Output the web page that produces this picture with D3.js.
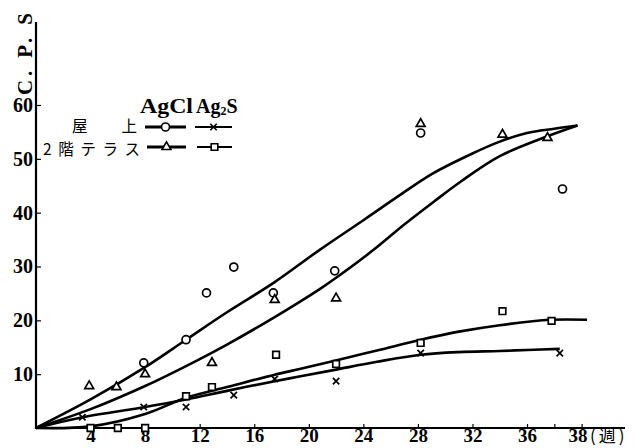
<!DOCTYPE html>
<html>
<head>
<meta charset="utf-8">
<script src="https://cdn.jsdelivr.net/npm/d3@7"></script>
<style>
  body { margin: 0; background: #fff; }
  svg { display: block; }
  .num { font-family: "Liberation Serif", "DejaVu Serif", serif; font-weight: bold; }
  .jp { font-family: "Noto Sans CJK JP", sans-serif; }
</style>
</head>
<body>
<div id="chartDiv"></div>
<script>
// x tick values (weeks) and the printed labels (last one is printed "38")
var xTicks = [4, 8, 12, 16, 20, 24, 28, 32, 36, 38, 40];
var xLabels = ["4", "8", "12", "16", "20", "24", "28", "32", "36", "", "38"];
var yTicks = [10, 20, 30, 40, 50, 60];

// fitted curves
var roofAgClCurveW = [0, 4, 8, 11, 14, 17.5, 20.8, 24, 26.7, 29.1, 32, 34, 36, 38, 39.7];
var roofAgClCurveV = [0, 5.3, 11.3, 16.4, 21.5, 27.1, 33.1, 38.6, 43.3, 47.3, 51, 53.2, 54.8, 55.6, 56.2];
var terAgClCurveW = [0, 4, 8, 11, 14, 17.5, 20.8, 22, 24.7, 27, 29.25, 31.1, 34, 37.5, 39.7];
var terAgClCurveV = [0, 3.5, 7.8, 11.5, 15.5, 20.6, 25.8, 27.9, 33.0, 37.8, 42.2, 45.7, 50.5, 54.2, 56.2];
var terAg2SCurveW = [0, 4, 8, 11, 14, 17.5, 19.4, 21.9, 25, 28.2, 31, 34, 37.7, 40.4];
var terAg2SCurveV = [0, 0.3, 2.6, 5.6, 7.6, 9.9, 11.0, 12.5, 14.4, 16.4, 17.9, 19.1, 20.1, 20.1];
var roofAg2SCurveW = [0, 3.4, 8, 11, 14, 17.5, 19.4, 21.9, 25, 28.2, 31, 34, 36, 38.4];
var roofAg2SCurveV = [0, 2.0, 3.9, 5.3, 6.9, 8.7, 9.6, 10.8, 12.3, 13.6, 14.1, 14.3, 14.5, 14.7];

// measured points
var roofAgClW = [7.9, 11, 12.5, 14.5, 17.4, 21.9, 28.2, 38.6];
var roofAgClV = [12.1, 16.4, 25.1, 29.9, 25.1, 29.2, 54.8, 44.4];
var terAgClW = [3.9, 5.9, 8.0, 12.9, 17.5, 22, 28.2, 34.2, 37.5];
var terAgClV = [7.8, 7.6, 10.0, 12.1, 23.8, 24.1, 56.5, 54.5, 53.9];
var terAg2SW = [4, 6, 8, 11, 12.9, 17.6, 22, 28.2, 34.2, 37.8];
var terAg2SV = [0, 0, 0, 5.9, 7.6, 13.6, 11.9, 15.8, 21.7, 19.9];
var roofAg2SW = [3.4, 7.9, 11, 14.5, 17.5, 22, 28.2, 38.4];
var roofAg2SV = [2.0, 3.9, 3.9, 6.1, 9.1, 8.7, 13.9, 13.9];

var sites = ["屋上", "2階テラス"];
var compounds = ["AgCl", "Ag", "2", "S"];

var swidth = 635, sheight = 448;
var svg = d3.select("#chartDiv").append("svg")
    .attr("width", swidth)
    .attr("height", sheight);

var x = d3.scaleLinear().domain([0, 40]).range([36, 581.6]);
var y = d3.scaleLinear().domain([0, 60]).range([428, 105]);

function zip(w, v) { return w.map(function (d, i) { return [d, v[i]]; }); }

// axes
svg.append("g")
    .attr("transform", "translate(0,428)")
    .call(d3.axisBottom(x).tickValues(xTicks).tickSizeInner(-4).tickSizeOuter(0).tickPadding(0)
        .tickFormat(function (d, i) { return xLabels[i]; }))
    .call(function (g) {
        g.select(".domain").remove();
        g.selectAll("line").attr("stroke", "#000").attr("stroke-width", 1.2);
        g.selectAll("text").attr("class", "num").attr("font-size", 19).attr("fill", "#000")
            .attr("dx", function (d) { return d === 40 ? -4 : 0; });
    });

svg.append("g")
    .attr("transform", "translate(36,0)")
    .call(d3.axisLeft(y).tickValues(yTicks).tickSizeInner(-5).tickSizeOuter(0).tickPadding(3))
    .call(function (g) {
        g.select(".domain").remove();
        g.selectAll("line").attr("stroke", "#000").attr("stroke-width", 1.2);
        g.selectAll("text").attr("class", "num").attr("font-size", 20).attr("fill", "#000");
    });

svg.append("line").attr("x1", 35).attr("x2", 625).attr("y1", 428).attr("y2", 428)
    .attr("stroke", "#000").attr("stroke-width", 2.2);
svg.append("line").attr("x1", 36).attr("x2", 36).attr("y1", 429).attr("y2", 22)
    .attr("stroke", "#000").attr("stroke-width", 2.2);

svg.append("text").attr("class", "jp")
    .attr("x", 590).attr("y", 442)
    .attr("font-size", 17)
    .attr("letter-spacing", 3)
    .text("(週)");

svg.append("text").attr("class", "num")
    .attr("transform", "translate(32,95) rotate(-90)")
    .attr("font-size", 21)
    .attr("textLength", 82).attr("lengthAdjust", "spacing")
    .text("C. P. S");

// curves
var line = d3.line()
    .x(function (d) { return x(d[0]); })
    .y(function (d) { return y(d[1]); })
    .curve(d3.curveCatmullRom.alpha(0.5));

[[roofAgClCurveW, roofAgClCurveV], [terAgClCurveW, terAgClCurveV],
 [terAg2SCurveW, terAg2SCurveV], [roofAg2SCurveW, roofAg2SCurveV]].forEach(function (c) {
    svg.append("path")
        .attr("d", line(zip(c[0], c[1])))
        .attr("fill", "none")
        .attr("stroke", "#000")
        .attr("stroke-width", 2.6);
});

// markers
var circlePath = d3.symbol().type(d3.symbolCircle).size(50)();
var triPath = d3.symbol().type(d3.symbolTriangle).size(34)();
var sqPath = d3.symbol().type(d3.symbolSquare).size(44)();
var xPath = "M-3.2,-3.2L3.2,3.2M-3.2,3.2L3.2,-3.2";

function drawMarks(w, v, p, filled) {
    svg.append("g").selectAll("path")
        .data(zip(w, v))
        .enter().append("path")
        .attr("transform", function (d) { return "translate(" + x(d[0]) + "," + y(d[1]) + ")"; })
        .attr("d", p)
        .attr("fill", filled ? "#fff" : "none")
        .attr("stroke", "#000")
        .attr("stroke-width", 1.7);
}
drawMarks(roofAgClW, roofAgClV, circlePath, true);
drawMarks(terAgClW, terAgClV, triPath, true);
drawMarks(terAg2SW, terAg2SV, sqPath, true);
drawMarks(roofAg2SW, roofAg2SV, xPath, false);

// legend
var lg = svg.append("g");
lg.append("text").attr("class", "num").attr("x", 140).attr("y", 113).attr("font-size", 20)
    .attr("textLength", 53).attr("lengthAdjust", "spacingAndGlyphs").text(compounds[0]);
var ag = lg.append("text").attr("class", "num").attr("x", 196).attr("y", 113).attr("font-size", 20);
ag.append("tspan").text(compounds[1]);
ag.append("tspan").attr("font-size", 12).attr("dy", 2).text(compounds[2]);
ag.append("tspan").attr("dy", -2).text(compounds[3]);

lg.append("text").attr("class", "jp").attr("x", 72).attr("y", 132).attr("font-size", 15.5)
    .attr("textLength", 65).attr("lengthAdjust", "spacing").text(sites[0]);
lg.append("text").attr("class", "jp").attr("x", 43).attr("y", 155).attr("font-size", 15.5)
    .attr("textLength", 97).attr("lengthAdjust", "spacing").text(sites[1]);

var legRows = [
    [127, 145, 186, circlePath, true, 2.8],
    [127, 195, 232, xPath, false, 2],
    [147, 147, 186, triPath, true, 2.8],
    [147, 197, 232, sqPath, true, 2]
];
legRows.forEach(function (r) {
    lg.append("line").attr("x1", r[1]).attr("x2", r[2]).attr("y1", r[0]).attr("y2", r[0])
        .attr("stroke", "#000").attr("stroke-width", r[5]);
    lg.append("path").attr("transform", "translate(" + ((r[1] + r[2]) / 2) + "," + r[0] + ")")
        .attr("d", r[3]).attr("fill", r[4] ? "#fff" : "none")
        .attr("stroke", "#000").attr("stroke-width", 1.6);
});
</script>
</body>
</html>
